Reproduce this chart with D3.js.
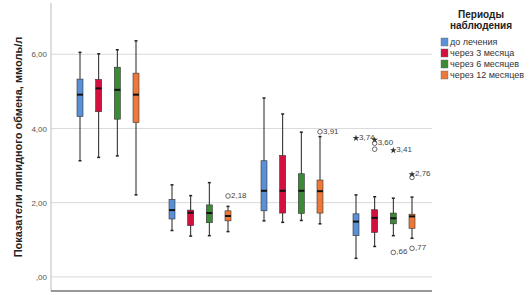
<!DOCTYPE html>
<html>
<head>
<meta charset="utf-8">
<script src="https://cdn.jsdelivr.net/npm/d3@7"></script>
<style>
  body { margin: 0; background: #fff; }
  svg { display: block; font-family: "Liberation Sans", Arial, sans-serif; }
</style>
</head>
<body>
<svg id="chart" width="532" height="295"></svg>
<script>
// four lipid indicators (no labels on the axis), four observation periods
const groups = ['1', '2', '3', '4'];
const periods = ['до лечения', 'через 3 месяца', 'через 6 месяцев', 'через 12 месяцев'];
const colors = ['#5b90d6', '#d2113f', '#3a8a36', '#ee7839'];

// [period][group]
const lows    = [[3.13, 1.25, 1.51, 0.50], [3.22, 1.10, 1.47, 0.82], [3.26, 1.11, 1.52, 1.11], [2.21, 1.22, 1.43, 1.04]];
const q1s     = [[4.32, 1.56, 1.78, 1.11], [4.45, 1.38, 1.72, 1.20], [4.25, 1.46, 1.71, 1.43], [4.16, 1.51, 1.72, 1.31]];
const medians = [[4.91, 1.80, 2.32, 1.49], [5.08, 1.73, 2.32, 1.59], [5.04, 1.72, 2.32, 1.58], [4.91, 1.64, 2.31, 1.63]];
const q3s     = [[5.33, 2.09, 3.13, 1.70], [5.32, 1.80, 3.27, 1.81], [5.65, 1.94, 2.78, 1.72], [5.49, 1.78, 2.61, 1.69]];
const highs   = [[6.05, 2.48, 4.82, 2.21], [6.01, 2.19, 4.39, 2.16], [6.12, 2.54, 3.90, 2.12], [6.36, 1.90, 3.78, 2.15]];

const outliers = [
    { group: 1, period: 3, value: 2.18, type: 'circle', label: '2,18' },
    { group: 2, period: 3, value: 3.91, type: 'circle', label: '3,91' },
    { group: 3, period: 0, value: 3.74, type: 'star', label: '3,74' },
    { group: 3, period: 1, value: 3.69, type: 'star', label: '' },
    { group: 3, period: 1, value: 3.60, type: 'circle', label: '3,60' },
    { group: 3, period: 1, value: 3.44, type: 'circle', label: '' },
    { group: 3, period: 2, value: 3.41, type: 'star', label: '3,41' },
    { group: 3, period: 2, value: 0.66, type: 'circle', label: ',66' },
    { group: 3, period: 3, value: 2.76, type: 'star', label: '2,76' },
    { group: 3, period: 3, value: 2.68, type: 'circle', label: '' },
    { group: 3, period: 3, value: 0.77, type: 'circle', label: ',77' }
];

const yTicks = [0, 2, 4, 6];
const yTitle = 'Показатели липидного обмена, ммоль/л';
const legendTitle = ['Периоды', 'наблюдения'];

const svg = d3.select('#chart');
const plot = { left: 51, right: 432, top: 3, bottom: 291 };

const y = d3.scaleLinear()
    .domain([-0.38, 7.38])
    .range([plot.bottom, plot.top]);

const x = d3.scaleBand()
    .domain(groups)
    .range([62, 430]);

const xInner = d3.scalePoint()
    .domain(periods)
    .range([-28, 28]);

const fmt = v => d3.format('.2f')(v).replace('.', ',').replace(/^0/, '');

// gridlines
svg.append('g')
    .selectAll('line')
    .data(yTicks)
    .join('line')
    .attr('x1', plot.left)
    .attr('x2', plot.right)
    .attr('y1', d => y(d))
    .attr('y2', d => y(d))
    .attr('stroke', '#d9d9d9')
    .attr('stroke-width', 1);

// y axis
const yAxis = svg.append('g')
    .attr('transform', `translate(${plot.left},0)`)
    .call(d3.axisLeft(y).tickValues(yTicks).tickSize(0).tickPadding(4).tickFormat(fmt));
yAxis.select('.domain').attr('stroke', '#bdbdbd').attr('d', `M0,${plot.top}V${plot.bottom}`);
yAxis.selectAll('text').attr('font-size', 8).attr('fill', '#555');

// x axis line
svg.append('line')
    .attr('x1', plot.left)
    .attr('x2', plot.right)
    .attr('y1', plot.bottom)
    .attr('y2', plot.bottom)
    .attr('stroke', '#333');

// y title
svg.append('text')
    .attr('transform', `translate(22,${(plot.top + plot.bottom) / 2}) rotate(-90)`)
    .attr('text-anchor', 'middle')
    .attr('font-size', 11)
    .attr('font-weight', 'bold')
    .attr('fill', '#222')
    .text(yTitle);

// boxes
const boxes = [];
periods.forEach((p, pi) => {
    groups.forEach((g, gi) => {
        boxes.push({
            cx: x(g) + x.bandwidth() / 2 + xInner(p),
            color: colors[pi],
            low: lows[pi][gi], q1: q1s[pi][gi], med: medians[pi][gi], q3: q3s[pi][gi], high: highs[pi][gi]
        });
    });
});

const bw = 6;
const box = svg.append('g').selectAll('g').data(boxes).join('g');

box.append('line')
    .attr('x1', d => d.cx).attr('x2', d => d.cx)
    .attr('y1', d => y(d.low)).attr('y2', d => y(d.high))
    .attr('stroke', '#222').attr('stroke-width', 1);

box.selectAll('.cap')
    .data(d => [[d.cx, d.low], [d.cx, d.high]])
    .join('line')
    .attr('class', 'cap')
    .attr('x1', d => d[0] - 1.5).attr('x2', d => d[0] + 1.5)
    .attr('y1', d => y(d[1])).attr('y2', d => y(d[1]))
    .attr('stroke', '#222').attr('stroke-width', 1.5);

box.append('rect')
    .attr('x', d => d.cx - bw / 2)
    .attr('width', bw)
    .attr('y', d => y(d.q3))
    .attr('height', d => y(d.q1) - y(d.q3))
    .attr('fill', d => d.color)
    .attr('stroke', '#333')
    .attr('stroke-width', 0.6);

box.append('line')
    .attr('x1', d => d.cx - bw / 2).attr('x2', d => d.cx + bw / 2)
    .attr('y1', d => y(d.med)).attr('y2', d => y(d.med))
    .attr('stroke', '#111').attr('stroke-width', 2);

// outliers
const ox = d => x(groups[d.group]) + x.bandwidth() / 2 + xInner(periods[d.period]);
const out = svg.append('g').selectAll('g').data(outliers).join('g')
    .attr('transform', d => `translate(${ox(d)},${y(d.value)})`);

out.filter(d => d.type === 'circle')
    .append('circle')
    .attr('r', 2.3)
    .attr('fill', 'none')
    .attr('stroke', '#444')
    .attr('stroke-width', 0.8);

out.filter(d => d.type === 'star')
    .append('path')
    .attr('d', d3.symbol(d3.symbolStar, 14))
    .attr('fill', '#333');

out.append('text')
    .attr('x', 3)
    .attr('y', 2)
    .attr('font-size', 8)
    .attr('fill', '#444')
    .text(d => d.label);

// legend
const legend = svg.append('g');
legend.selectAll('.lt')
    .data(legendTitle)
    .join('text')
    .attr('class', 'lt')
    .attr('x', 481)
    .attr('y', (d, i) => 18 + i * 11)
    .attr('text-anchor', 'middle')
    .attr('font-size', 10)
    .attr('font-weight', 'bold')
    .attr('fill', '#222')
    .text(d => d);

const item = legend.selectAll('.item')
    .data(periods)
    .join('g')
    .attr('class', 'item')
    .attr('transform', (d, i) => `translate(441,${42 + i * 11})`);

item.append('rect')
    .attr('x', 0).attr('y', -4)
    .attr('width', 7).attr('height', 8)
    .attr('fill', (d, i) => colors[i])
    .attr('stroke', '#666').attr('stroke-width', 0.4);

item.append('text')
    .attr('x', 9)
    .attr('y', 3)
    .attr('font-size', 9)
    .attr('fill', '#333')
    .text(d => d);
</script>
</body>
</html>
